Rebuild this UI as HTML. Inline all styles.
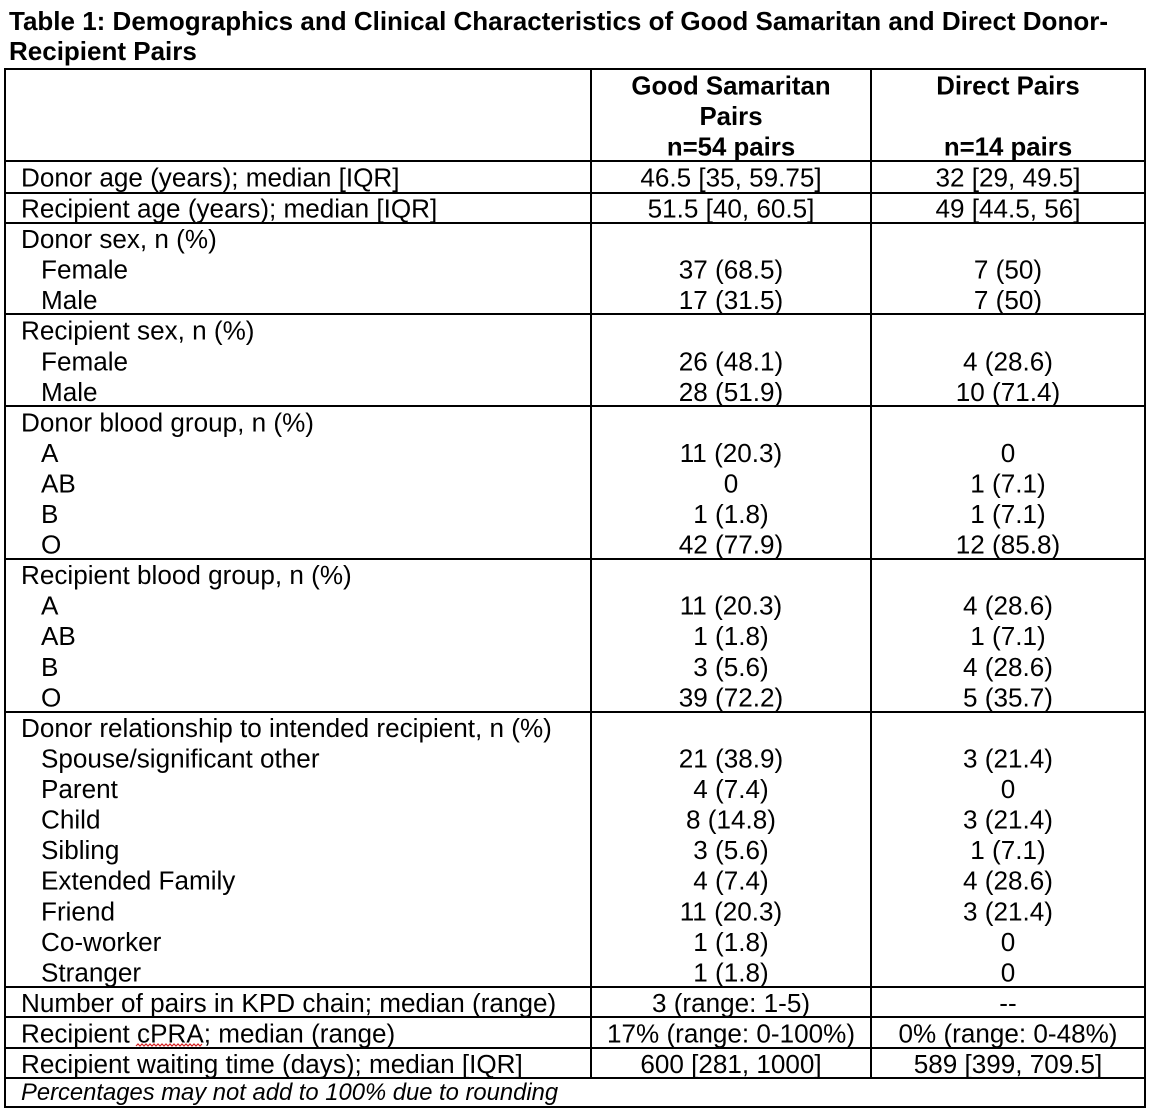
<!DOCTYPE html>
<html>
<head>
<meta charset="utf-8">
<style>
  html, body { margin:0; padding:0; background:#fff; }
  svg { display:block; }
  text { font-family: "Liberation Sans", Arial, sans-serif; fill:#000; }
  .t { font-size:26px; font-weight:bold; }
  .h { font-size:25.8px; font-weight:bold; text-anchor:middle; }
  .b { font-size:26.1px; }
  .c { font-size:26.1px; text-anchor:middle; }
  .f { font-size:23.8px; font-style:italic; }
  line { stroke:#000; stroke-width:2; }
</style>
</head>
<body>
<svg width="1150" height="1116" viewBox="0 0 1150 1116" xmlns="http://www.w3.org/2000/svg">
  <rect x="0" y="0" width="1150" height="1116" fill="#fff"/>

  <!-- Title -->
  <text class="t" x="9" y="30">Table 1: Demographics and Clinical Characteristics of Good Samaritan and Direct Donor-</text>
  <text class="t" x="9" y="60">Recipient Pairs</text>

  <!-- Horizontal lines -->
  <line x1="4" y1="69" x2="1146" y2="69"/>
  <line x1="4" y1="161" x2="1146" y2="161"/>
  <line x1="4" y1="193" x2="1146" y2="193"/>
  <line x1="4" y1="223" x2="1146" y2="223"/>
  <line x1="4" y1="314" x2="1146" y2="314"/>
  <line x1="4" y1="406" x2="1146" y2="406"/>
  <line x1="4" y1="559" x2="1146" y2="559"/>
  <line x1="4" y1="712" x2="1146" y2="712"/>
  <line x1="4" y1="987" x2="1146" y2="987"/>
  <line x1="4" y1="1017" x2="1146" y2="1017"/>
  <line x1="4" y1="1048" x2="1146" y2="1048"/>
  <line x1="4" y1="1078" x2="1146" y2="1078"/>
  <line x1="4" y1="1107" x2="1146" y2="1107"/>

  <!-- Vertical lines -->
  <line x1="5" y1="68" x2="5" y2="1108"/>
  <line x1="1145" y1="68" x2="1145" y2="1108"/>
  <line x1="591" y1="68" x2="591" y2="1078"/>
  <line x1="871" y1="68" x2="871" y2="1078"/>

  <!-- Header -->
  <text class="h" x="731" y="94.3">Good Samaritan</text>
  <text class="h" x="731" y="124.9">Pairs</text>
  <text class="h" x="731" y="155.4">n=54 pairs</text>
  <text class="h" x="1008" y="94.3">Direct Pairs</text>
  <text class="h" x="1008" y="155.4">n=14 pairs</text>

  <!-- Rows -->
  <text class="b" x="21" y="186.5">Donor age (years); median [IQR]</text>
  <text class="c" x="731" y="186.5">46.5 [35, 59.75]</text>
  <text class="c" x="1008" y="186.5">32 [29, 49.5]</text>

  <text class="b" x="21" y="217.5">Recipient age (years); median [IQR]</text>
  <text class="c" x="731" y="217.5">51.5 [40, 60.5]</text>
  <text class="c" x="1008" y="217.5">49 [44.5, 56]</text>

  <!-- Donor sex -->
  <text class="b" x="21" y="248.0">Donor sex, n (%)</text>
  <text class="b" x="41" y="278.6">Female</text>
  <text class="c" x="731" y="278.6">37 (68.5)</text>
  <text class="c" x="1008" y="278.6">7 (50)</text>
  <text class="b" x="41" y="309.1">Male</text>
  <text class="c" x="731" y="309.1">17 (31.5)</text>
  <text class="c" x="1008" y="309.1">7 (50)</text>

  <!-- Recipient sex -->
  <text class="b" x="21" y="339.7">Recipient sex, n (%)</text>
  <text class="b" x="41" y="370.3">Female</text>
  <text class="c" x="731" y="370.3">26 (48.1)</text>
  <text class="c" x="1008" y="370.3">4 (28.6)</text>
  <text class="b" x="41" y="400.8">Male</text>
  <text class="c" x="731" y="400.8">28 (51.9)</text>
  <text class="c" x="1008" y="400.8">10 (71.4)</text>

  <!-- Donor blood group -->
  <text class="b" x="21" y="431.3">Donor blood group, n (%)</text>
  <text class="b" x="41" y="461.9">A</text>
  <text class="c" x="731" y="461.9">11 (20.3)</text>
  <text class="c" x="1008" y="461.9">0</text>
  <text class="b" x="41" y="492.4">AB</text>
  <text class="c" x="731" y="492.4">0</text>
  <text class="c" x="1008" y="492.4">1 (7.1)</text>
  <text class="b" x="41" y="523.0">B</text>
  <text class="c" x="731" y="523.0">1 (1.8)</text>
  <text class="c" x="1008" y="523.0">1 (7.1)</text>
  <text class="b" x="41" y="553.5">O</text>
  <text class="c" x="731" y="553.5">42 (77.9)</text>
  <text class="c" x="1008" y="553.5">12 (85.8)</text>

  <!-- Recipient blood group -->
  <text class="b" x="21" y="584.1">Recipient blood group, n (%)</text>
  <text class="b" x="41" y="614.7">A</text>
  <text class="c" x="731" y="614.7">11 (20.3)</text>
  <text class="c" x="1008" y="614.7">4 (28.6)</text>
  <text class="b" x="41" y="645.2">AB</text>
  <text class="c" x="731" y="645.2">1 (1.8)</text>
  <text class="c" x="1008" y="645.2">1 (7.1)</text>
  <text class="b" x="41" y="675.8">B</text>
  <text class="c" x="731" y="675.8">3 (5.6)</text>
  <text class="c" x="1008" y="675.8">4 (28.6)</text>
  <text class="b" x="41" y="706.3">O</text>
  <text class="c" x="731" y="706.3">39 (72.2)</text>
  <text class="c" x="1008" y="706.3">5 (35.7)</text>

  <!-- Relationship -->
  <text class="b" x="21" y="736.9">Donor relationship to intended recipient, n (%)</text>
  <text class="b" x="41" y="767.5">Spouse/significant other</text>
  <text class="c" x="731" y="767.5">21 (38.9)</text>
  <text class="c" x="1008" y="767.5">3 (21.4)</text>
  <text class="b" x="41" y="798.0">Parent</text>
  <text class="c" x="731" y="798.0">4 (7.4)</text>
  <text class="c" x="1008" y="798.0">0</text>
  <text class="b" x="41" y="828.6">Child</text>
  <text class="c" x="731" y="828.6">8 (14.8)</text>
  <text class="c" x="1008" y="828.6">3 (21.4)</text>
  <text class="b" x="41" y="859.1">Sibling</text>
  <text class="c" x="731" y="859.1">3 (5.6)</text>
  <text class="c" x="1008" y="859.1">1 (7.1)</text>
  <text class="b" x="41" y="889.7">Extended Family</text>
  <text class="c" x="731" y="889.7">4 (7.4)</text>
  <text class="c" x="1008" y="889.7">4 (28.6)</text>
  <text class="b" x="41" y="920.3">Friend</text>
  <text class="c" x="731" y="920.3">11 (20.3)</text>
  <text class="c" x="1008" y="920.3">3 (21.4)</text>
  <text class="b" x="41" y="950.8">Co-worker</text>
  <text class="c" x="731" y="950.8">1 (1.8)</text>
  <text class="c" x="1008" y="950.8">0</text>
  <text class="b" x="41" y="981.4">Stranger</text>
  <text class="c" x="731" y="981.4">1 (1.8)</text>
  <text class="c" x="1008" y="981.4">0</text>

  <!-- Single rows -->
  <text class="b" x="21" y="1012.0">Number of pairs in KPD chain; median (range)</text>
  <text class="c" x="731" y="1012.0">3 (range: 1-5)</text>
  <text class="c" x="1008" y="1012.0">--</text>

  <text class="b" x="21" y="1042.6">Recipient cPRA; median (range)</text>
  <text class="c" x="731" y="1042.6">17% (range: 0-100%)</text>
  <text class="c" x="1008" y="1042.6">0% (range: 0-48%)</text>
  <polyline fill="none" stroke="#d42020" stroke-width="1.2"
    points="136,1046 138,1044 140,1046 142,1044 144,1046 146,1044 148,1046 150,1044 152,1046 154,1044 156,1046 158,1044 160,1046 162,1044 164,1046 166,1044 168,1046 170,1044 172,1046 174,1044 176,1046 178,1044 180,1046 182,1044 184,1046 186,1044 188,1046 190,1044 192,1046 194,1044 196,1046 198,1044 200,1046 202,1044"/>

  <text class="b" x="21" y="1073.1">Recipient waiting time (days); median [IQR]</text>
  <text class="c" x="731" y="1073.1">600 [281, 1000]</text>
  <text class="c" x="1008" y="1073.1">589 [399, 709.5]</text>

  <!-- Footnote -->
  <text class="f" x="21" y="1100">Percentages may not add to 100% due to rounding</text>
</svg>
</body>
</html>
